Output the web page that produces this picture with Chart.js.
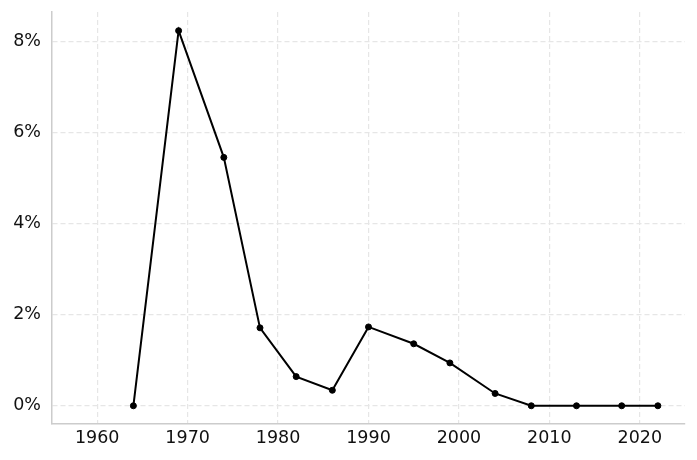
<!DOCTYPE html>
<html>
<head>
<meta charset="utf-8">
<script src="https://cdn.jsdelivr.net/npm/chart.js@4"></script>
<style>
  html, body { margin: 0; padding: 0; background: #fff; }
  #wrap { width: 697px; height: 460px; }
</style>
</head>
<body>
<div id="wrap"><canvas id="chart" width="697" height="460"></canvas></div>
<script>
const years = [1964, 1969, 1974, 1978, 1982, 1986, 1990, 1995, 1999, 2004, 2008, 2013, 2018, 2022];
const values = [0, 8.23, 5.45, 1.71, 0.64, 0.34, 1.73, 1.36, 0.94, 0.27, 0, 0, 0, 0];
const xTicks = [1960, 1970, 1980, 1990, 2000, 2010, 2020];
const yTicks = [0, 2, 4, 6, 8];

const ctx = document.getElementById("chart").getContext("2d");

const gridColor = "#e6e6e6";
const axisColor = "#cccccc";
const tickFont = { family: "DejaVu Sans", size: 17.5 };

new Chart(ctx, {
    type: "line",
    data: {
        datasets: [{
            data: years.map((y, i) => ({ x: y, y: values[i] })),
            borderColor: "#000",
            backgroundColor: "#000",
            borderWidth: 2,
            pointRadius: 3,
            pointBorderWidth: 1,
            pointHoverRadius: 3,
            tension: 0,
            fill: false
        }]
    },
    options: {
        responsive: false,
        animation: false,
        layout: { padding: { top: 12, right: 12, left: 0, bottom: 0 } },
        plugins: { legend: { display: false }, tooltip: { enabled: false } },
        scales: {
            x: {
                type: "linear",
                min: 1955,
                max: 2025,
                afterBuildTicks: (scale) => { scale.ticks = xTicks.map(v => ({ value: v })); },
                afterFit: (scale) => {
                    scale.height = 36;
                    scale.paddingLeft = 0;
                    scale.paddingRight = 0;
                },
                grid: { color: gridColor, drawTicks: false, lineWidth: 1.2 },
                border: { display: true, color: axisColor, width: 1.5, dash: [5, 3] },
                ticks: { font: tickFont, color: "#111", padding: 4, callback: v => String(v) }
            },
            y: {
                min: -0.4,
                max: 8.64,
                afterBuildTicks: (scale) => { scale.ticks = yTicks.map(v => ({ value: v })); },
                afterFit: (scale) => {
                    scale.width = 52;
                    scale.paddingTop = 0;
                    scale.paddingBottom = 0;
                },
                grid: { color: gridColor, drawTicks: false, lineWidth: 1.2 },
                border: { display: true, color: axisColor, width: 1.5, dash: [5, 3] },
                ticks: { font: tickFont, color: "#111", padding: 11, callback: v => v + "%" }
            }
        }
    }
});
</script>
</body>
</html>
